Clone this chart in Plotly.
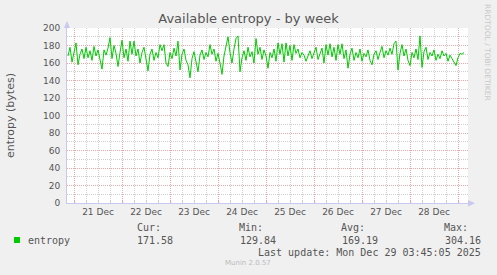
import plotly.graph_objects as go
import pandas as pd

# ---- data ----
start_time = "2025-12-20 21:00"
entropy = [
    168, 178, 161, 172, 183, 158, 170, 176, 165, 178, 166, 174, 163, 179, 168, 175, 162, 153, 175, 169,
    177, 189, 165, 180, 171, 156, 172, 186, 166, 176, 162, 185, 170, 185, 168, 176, 160, 172, 178, 165,
    151, 170, 176, 163, 172, 166, 181, 174, 181, 160, 156, 172, 165, 177, 168, 185, 152, 170, 176, 163,
    158, 143, 165, 173, 161, 150, 169, 175, 164, 172, 167, 181, 170, 176, 162, 171, 160, 147, 168, 178,
    190, 172, 160, 176, 188, 191, 150, 166, 174, 163, 178, 167, 173, 160, 188, 170, 178, 164, 175, 168,
    154, 172, 166, 176, 162, 183, 170, 182, 161, 183, 168, 180, 163, 181, 171, 176, 166, 172, 169, 162,
    168, 174, 165, 171, 178, 164, 170, 177, 160, 181, 169, 182, 167, 178, 163, 181, 170, 182, 165, 175,
    154, 170, 177, 163, 172, 166, 176, 162, 171, 167, 175, 163, 158, 170, 174, 164, 172, 179, 166, 174,
    169, 177, 170, 182, 185, 152, 171, 181, 168, 176, 163, 157, 172, 166, 176, 164, 191, 155, 173, 178,
    164, 172, 168, 175, 163, 170, 165, 174, 168, 171, 162, 169, 165, 160, 157, 166, 171, 170, 172,
]
times = pd.date_range(start_time, periods=len(entropy), freq="h")

x_range = ["2025-12-20 20:30", "2025-12-29 05:00"]
y_range = [0, 200]
legend_headers = ["Cur:", "Min:", "Avg:", "Max:"]
legend_values = ["171.58", "129.84", "169.19", "304.16"]
series_name = "entropy"
title = "Available entropy - by week"
y_title = "entropy (bytes)"
last_update = "Last update: Mon Dec 29 03:45:05 2025"
footer = "Munin 2.0.57"
side_text = "RRDTOOL / TOBI OETIKER"

# ---- layout geometry ----
W, H = 497, 275
L, R, T, B = 67, 29, 28, 72
PW, PH = W - L - R, H - T - B


def px(x):
    return (x - L) / PW


def py(y):
    return (H - B - y) / PH


GREEN = "#00CC00"
TXT = "#555555"
MAJ = "#EBA8A8"
MIN = "#CFCFCF"
AX = "#C8C8F0"
DASH = "1px,1px"
mono = "DejaVu Sans Mono"

fig = go.Figure()
fig.add_trace(go.Scatter(x=times, y=entropy, mode="lines",
                         line=dict(color=GREEN, width=1), showlegend=False,
                         hoverinfo="skip"))

fig.update_layout(
    width=W, height=H,
    margin=dict(l=L, r=R, t=T, b=B, pad=0),
    paper_bgcolor="#F0F0F0", plot_bgcolor="#FFFFFF",
    font=dict(family="DejaVu Sans", size=9, color=TXT),
    title=dict(text=title, x=0.5, xanchor="center", xref="container",
               y=1 - 18 / H, yanchor="middle", yref="container",
               font=dict(family="DejaVu Sans", size=13, color=TXT)),
    showlegend=False,
)

fig.update_xaxes(
    type="date", range=x_range,
    tick0="2025-12-21", dtick=86400000, tickformat="%d %b",
    ticklabelmode="period",
    showgrid=True, gridcolor=MAJ, griddash=DASH, gridwidth=1,
    ticks="inside", ticklen=3, tickcolor=MAJ,
    showline=True, linecolor=AX, linewidth=1,
    zeroline=False,
    tickfont=dict(family="DejaVu Sans", size=9, color=TXT),
    minor=dict(dtick=6 * 3600000, tick0="2025-12-21", showgrid=True,
               gridcolor=MIN, griddash=DASH, gridwidth=1,
               ticks="inside", ticklen=2, tickcolor=MIN),
    fixedrange=True,
)
fig.update_yaxes(
    range=y_range, dtick=20, tick0=0,
    showgrid=True, gridcolor=MAJ, griddash=DASH, gridwidth=1,
    ticks="", showline=True, linecolor=AX, linewidth=1,
    zeroline=False,
    tickfont=dict(family="DejaVu Sans", size=9, color=TXT),
    ticklabelstandoff=4,
    minor=dict(dtick=10, tick0=0, showgrid=True, gridcolor=MIN,
               griddash=DASH, gridwidth=1),
    fixedrange=True,
)

# arrows at axis ends
fig.add_shape(type="path", xref="paper", yref="paper",
              path=f"M {px(64)} {py(28)} L {px(70)} {py(28)} L {px(67)} {py(21)} Z",
              fillcolor=AX, line=dict(width=0))
fig.add_shape(type="path", xref="paper", yref="paper",
              path=f"M {px(468)} {py(200)} L {px(468)} {py(206.5)} L {px(475)} {py(203.3)} Z",
              fillcolor=AX, line=dict(width=0))

ann = []
ann.append(dict(text=y_title, x=px(10), y=py(116), textangle=-90,
                font=dict(family="DejaVu Sans", size=11, color=TXT)))
ann.append(dict(text=side_text, x=px(488), y=py(52), textangle=90,
                font=dict(family="DejaVu Sans", size=7.5, color="#C8C8C8")))
# legend
ann.append(dict(text=series_name, x=px(26), y=py(240), xanchor="left",
                font=dict(family=mono, size=10, color=TXT)))
hdr_x = [163, 265, 367, 470]
val_x = [175, 278, 380, 483]
for hx, h in zip(hdr_x, legend_headers):
    ann.append(dict(text=h, x=px(hx), y=py(227), xanchor="right",
                    font=dict(family=mono, size=10, color=TXT)))
for vx, v in zip(val_x, legend_values):
    ann.append(dict(text=v, x=px(vx), y=py(240), xanchor="right",
                    font=dict(family=mono, size=10, color=TXT)))
ann.append(dict(text=last_update, x=px(483), y=py(252), xanchor="right",
                font=dict(family=mono, size=10, color=TXT)))
ann.append(dict(text=footer, x=px(248), y=py(263), xanchor="center",
                font=dict(family="DejaVu Sans", size=7, color="#BBBBBB")))
for a in ann:
    a.setdefault("xanchor", "center")
    a.update(xref="paper", yref="paper", yanchor="middle", showarrow=False)
fig.update_layout(annotations=ann)

fig.add_shape(type="rect", xref="paper", yref="paper",
              x0=px(14), x1=px(20), y0=py(237), y1=py(243),
              fillcolor=GREEN, line=dict(width=0))

fig.write_html("out.html")
